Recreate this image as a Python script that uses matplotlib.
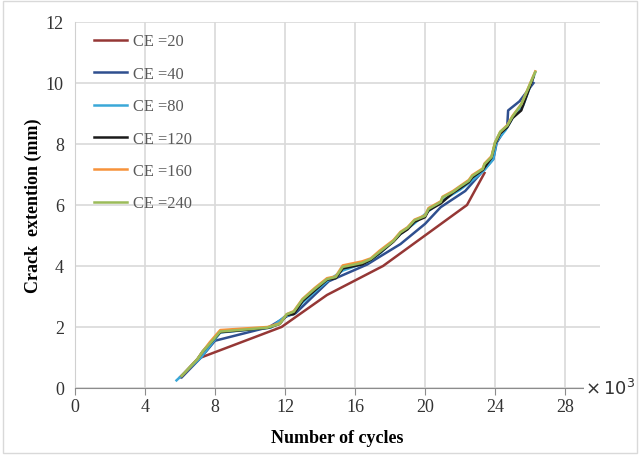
import matplotlib
matplotlib.use('Agg')
from matplotlib import pyplot as plt
from matplotlib.patches import Rectangle

# cycles (x10^3) and crack extension (mm)
x_ce20 = [6.0, 7.2, 11.8, 14.4, 17.6, 22.4, 23.4]
y_ce20 = [0.35, 1.0, 2.0, 3.05, 4.0, 6.0, 7.05]

x_ce40 = [6.1, 7.2, 8.0, 11.1, 12.1, 12.6, 14.5, 16.7, 17.4, 18.6, 20.0, 20.9,
          22.3, 23.9, 24.1, 24.7, 24.75, 25.4, 26.2]
y_ce40 = [0.35, 1.0, 1.55, 2.0, 2.35, 2.45, 3.5, 4.05, 4.3, 4.72, 5.38, 5.93,
          6.46, 7.5, 8.05, 8.6, 9.1, 9.4, 10.0]

x_ce80 = [5.8, 7.2, 7.6, 8.3, 11.2, 12.0, 12.5, 13.0, 14.4, 15.3, 16.8, 17.5,
          18.6, 19.4, 20.2, 21.0, 22.0, 22.8, 23.4, 23.9, 24.1, 24.6, 25.0,
          25.6, 26.3]
y_ce80 = [0.25, 1.0, 1.3, 1.82, 1.98, 2.35, 2.45, 2.8, 3.5, 3.85, 4.15, 4.45,
          5.05, 5.4, 5.8, 6.15, 6.5, 6.85, 7.15, 7.5, 8.1, 8.45, 8.85, 9.25,
          10.35]

x_ce120 = [6.1, 7.0, 7.3, 7.7, 8.3, 11.0, 11.7, 12.1, 12.5, 13.0, 13.7, 14.4,
           14.9, 15.3, 16.4, 16.9, 17.4, 18.2, 18.6, 19.0, 19.4, 20.0, 20.2,
           20.9, 21.6, 22.0, 22.5, 22.7, 23.3, 23.8, 24.0, 24.3, 24.7, 25.0,
           25.5, 26.2]
y_ce120 = [0.4, 0.95, 1.2, 1.45, 1.83, 1.97, 2.1, 2.4, 2.42, 2.85, 3.2, 3.55,
           3.6, 3.92, 4.05, 4.2, 4.42, 4.8, 5.05, 5.2, 5.45, 5.6, 5.82, 6.05,
           6.4, 6.55, 6.75, 6.9, 7.15, 7.55, 8.0, 8.35, 8.55, 8.85, 9.1, 10.2]

x_ce160 = [6.1, 7.0, 7.3, 7.7, 8.3, 11.0, 11.7, 12.1, 12.5, 13.0, 13.7, 14.4,
           14.9, 15.3, 16.4, 16.9, 17.4, 18.2, 18.6, 19.0, 19.4, 20.0, 20.2,
           20.9, 21.0, 21.6, 22.0, 22.5, 22.7, 23.3, 23.4, 23.8, 24.0, 24.3,
           24.7, 25.0, 25.5, 26.3]
y_ce160 = [0.4, 0.95, 1.2, 1.5, 1.9, 2.0, 2.12, 2.42, 2.52, 2.92, 3.28, 3.6,
           3.66, 4.02, 4.15, 4.25, 4.5, 4.85, 5.12, 5.27, 5.52, 5.66, 5.9, 6.12,
           6.27, 6.46, 6.62, 6.82, 6.98, 7.2, 7.36, 7.6, 8.05, 8.4, 8.62, 8.92,
           9.3, 10.38]

x_ce240 = [6.1, 7.0, 7.3, 7.7, 8.3, 11.0, 11.7, 12.1, 12.5, 13.0, 13.7, 14.4,
           14.9, 15.3, 16.4, 16.9, 17.4, 18.2, 18.6, 19.0, 19.4, 20.0, 20.2,
           20.9, 21.0, 21.6, 22.0, 22.5, 22.7, 23.3, 23.4, 23.8, 24.0, 24.3,
           24.7, 25.0, 25.5, 26.3]
y_ce240 = [0.4, 0.95, 1.2, 1.45, 1.85, 1.98, 2.1, 2.42, 2.5, 2.9, 3.25, 3.57,
           3.64, 3.97, 4.1, 4.23, 4.46, 4.82, 5.1, 5.25, 5.5, 5.64, 5.87, 6.1,
           6.25, 6.43, 6.6, 6.79, 6.95, 7.18, 7.34, 7.57, 8.05, 8.4, 8.6, 8.9,
           9.3, 10.36]

x_ticks = [0, 4, 8, 12, 16, 20, 24, 28]
y_ticks = [0, 2, 4, 6, 8, 10, 12]

series = [
    (x_ce20, y_ce20, '#953735', 'CE =20'),
    (x_ce40, y_ce40, '#2F4F8F', 'CE =40'),
    (x_ce80, y_ce80, '#3AA8D8', 'CE =80'),
    (x_ce120, y_ce120, '#1A1A1A', 'CE =120'),
    (x_ce160, y_ce160, '#F7923A', 'CE =160'),
    (x_ce240, y_ce240, '#9BBB59', 'CE =240'),
]

plt.rcParams['font.family'] = ['Liberation Serif', 'DejaVu Serif']

fig = plt.figure(figsize=(6.4, 4.56), dpi=100)
ax = fig.add_axes([75 / 640, 67 / 456, 525 / 640, 366 / 456])

for xs, ys, col, lab in series:
    ax.plot(xs, ys, color=col, linewidth=1.8, label=lab)

ax.set_xlim(0, 30)
ax.set_ylim(0, 12)
ax.set_xticks(x_ticks)
ax.set_yticks(y_ticks)
ax.grid(True, color='#D9D9D9', linewidth=1.2)
ax.set_axisbelow(True)

for side in ['top', 'right']:
    ax.spines[side].set_visible(False)
ax.spines['left'].set_color('#D0D0D0')
ax.spines['bottom'].set_color('#8C8C8C')
ax.tick_params(axis='y', length=0, pad=8, labelsize=13, labelcolor='#333333')
ax.tick_params(axis='x', length=5, color='#8C8C8C', pad=2, labelsize=13,
               labelcolor='#333333')

ax.set_xlabel('Number of cycles', fontsize=13, fontweight='bold', labelpad=10)
ax.set_ylabel('Crack  extention (mm)', fontsize=13, fontweight='bold', labelpad=3)

ax.text(1.02, 0.0, '$\\times\\,10^3$', transform=ax.transAxes, ha='center',
        va='center', fontsize=13, family='DejaVu Sans', color='#333333',
        bbox=dict(facecolor='white', edgecolor='none', pad=1))

leg = ax.legend(loc='upper left', bbox_to_anchor=(0.015, 1.0), frameon=False,
                fontsize=11.8, labelspacing=1.0, handlelength=2.0,
                handletextpad=0.35, borderaxespad=0.3)
for t in leg.get_texts():
    t.set_color('#595959')

fig.patches.append(Rectangle((0.004, 0.004), 0.992, 0.992, transform=fig.transFigure,
                             fill=False, edgecolor='#D9D9D9', linewidth=1))

fig.savefig('out.png', dpi=100)
